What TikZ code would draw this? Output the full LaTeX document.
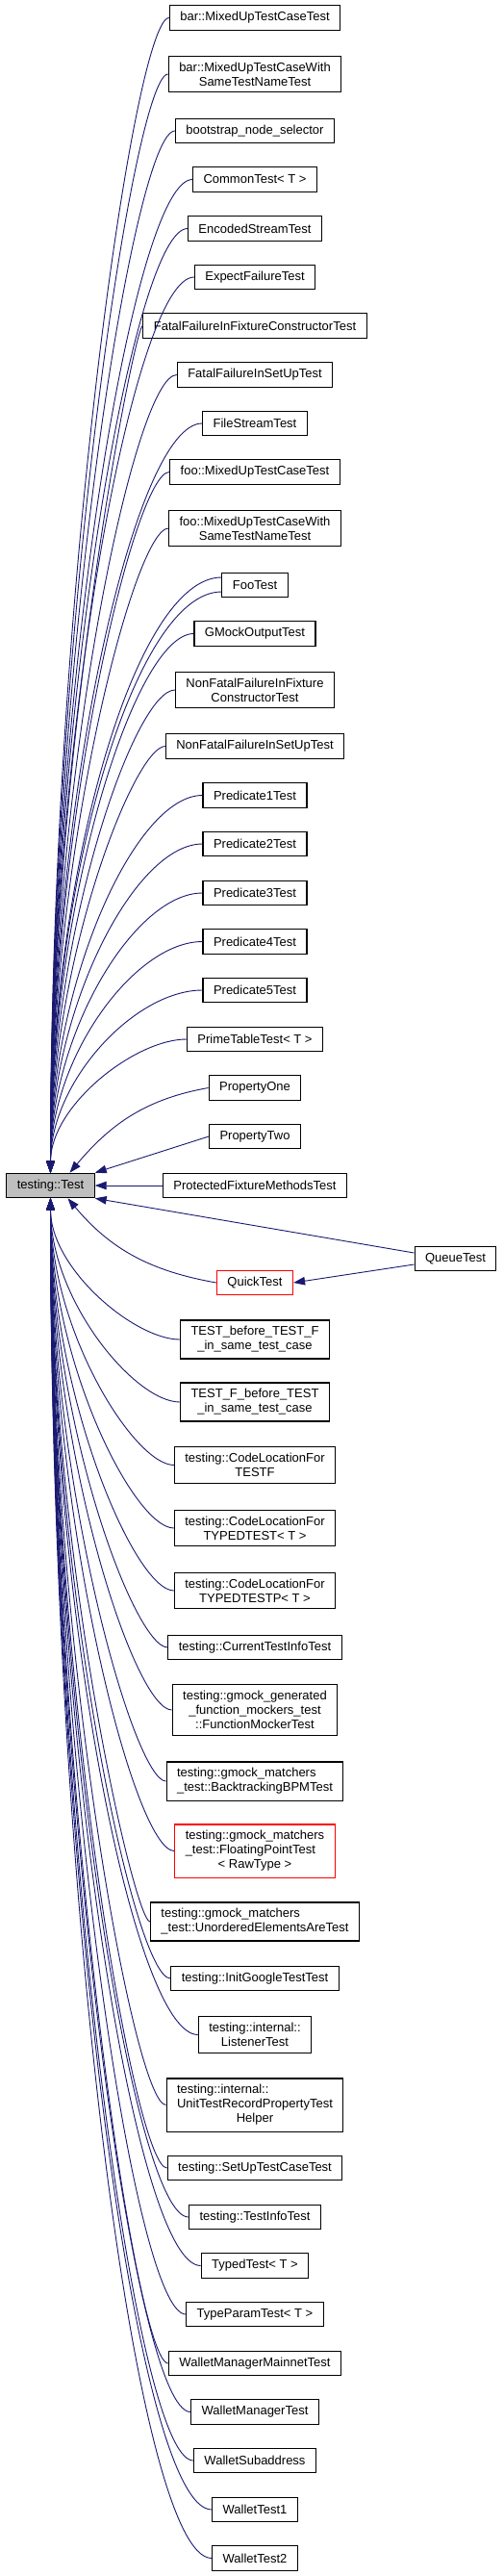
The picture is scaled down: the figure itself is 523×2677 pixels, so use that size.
\documentclass[tikz,border=0pt]{standalone}
\usepackage{fontspec}
\setmainfont{Liberation Sans}
\usetikzlibrary{arrows.meta,calc}
\definecolor{midnightblue}{RGB}{25,25,112}

\begin{document}
\begin{tikzpicture}[x=1pt,y=1pt,
  classbox/.style={draw=black, line width=1.1pt, rectangle, fill=white, minimum height=25.5pt, inner xsep=11pt, inner ysep=6.5pt, align=center, font=\fontsize{13}{15}\selectfont},
  leftbox/.style={classbox, align=left},
  redbox/.style={draw=red},
  inherit/.style={midnightblue, line width=0.9pt, arrows={Triangle[length=12pt,width=8.5pt]-}},
  curvy/.style={to path={.. controls ($(\tikztostart)!0.5!(\tikztostart |- \tikztotarget)$) and (bend |- \tikztotarget) .. (\tikztotarget)}}]
\useasboundingbox (0,0) rectangle (523,-2677);
\coordinate (bend) at (140,0);
\node[classbox, fill=black!25] (Test) at (52.5,-1232) {testing::Test};
\node[classbox] (barMixed) at (265,-18.5) {bar::MixedUpTestCaseTest};
\node[classbox] (barMixedSame) at (265,-77) {bar::MixedUpTestCaseWith\\SameTestNameTest};
\node[classbox] (bootstrap) at (265,-136) {bootstrap\_node\_selector};
\node[classbox] (commonTest) at (265,-186.5) {CommonTest< T >};
\node[classbox] (encoded) at (265,-237.5) {EncodedStreamTest};
\node[classbox] (expectFailure) at (265,-288) {ExpectFailureTest};
\node[classbox] (fatalCtor) at (265,-338.5) {FatalFailureInFixtureConstructorTest};
\node[classbox] (fatalSetUp) at (265,-389.5) {FatalFailureInSetUpTest};
\node[classbox] (fileStream) at (265,-440) {FileStreamTest};
\node[classbox] (fooMixed) at (265,-490.5) {foo::MixedUpTestCaseTest};
\node[classbox] (fooMixedSame) at (265,-549) {foo::MixedUpTestCaseWith\\SameTestNameTest};
\node[classbox] (fooTest) at (265,-608) {FooTest};
\node[classbox] (gmockOutput) at (265,-658.5) {GMockOutputTest};
\node[classbox] (nonFatalCtor) at (265,-717) {NonFatalFailureInFixture\\ConstructorTest};
\node[classbox] (nonFatalSetUp) at (265,-775.5) {NonFatalFailureInSetUpTest};
\node[classbox] (pred1) at (265,-826.5) {Predicate1Test};
\node[classbox] (pred2) at (265,-877) {Predicate2Test};
\node[classbox] (pred3) at (265,-928) {Predicate3Test};
\node[classbox] (pred4) at (265,-978.5) {Predicate4Test};
\node[classbox] (pred5) at (265,-1029) {Predicate5Test};
\node[classbox] (primeTable) at (265,-1080) {PrimeTableTest< T >};
\node[classbox] (propOne) at (265,-1130.5) {PropertyOne};
\node[classbox] (propTwo) at (265,-1181) {PropertyTwo};
\node[classbox] (protectedFixture) at (265,-1232) {ProtectedFixtureMethodsTest};
\node[classbox] (queueTest) at (473.5,-1308) {QueueTest};
\node[classbox, redbox] (quickTest) at (265,-1333) {QuickTest};
\node[classbox] (testBefore) at (265,-1392) {TEST\_before\_TEST\_F\\\_in\_same\_test\_case};
\node[classbox] (testFBefore) at (265,-1457) {TEST\_F\_before\_TEST\\\_in\_same\_test\_case};
\node[classbox] (codeLocF) at (265,-1522.5) {testing::CodeLocationFor\\TESTF};
\node[classbox] (codeLocTyped) at (265,-1588) {testing::CodeLocationFor\\TYPEDTEST< T >};
\node[classbox] (codeLocTypedP) at (265,-1653) {testing::CodeLocationFor\\TYPEDTESTP< T >};
\node[classbox] (currentInfo) at (265,-1712) {testing::CurrentTestInfoTest};
\node[classbox] (functionMocker) at (265,-1777) {testing::gmock\_generated\\\_function\_mockers\_test\\::FunctionMockerTest};
\node[leftbox] (backtracking) at (265,-1851) {testing::gmock\_matchers\\\_test::BacktrackingBPMTest};
\node[leftbox, redbox] (floatingPoint) at (265,-1923.5) {testing::gmock\_matchers\\\_test::FloatingPointTest\\\hfil< RawType >};
\node[leftbox] (unordered) at (265,-1997) {testing::gmock\_matchers\\\_test::UnorderedElementsAreTest};
\node[classbox] (initGoogle) at (265,-2056) {testing::InitGoogleTestTest};
\node[classbox] (listener) at (265,-2114.5) {testing::internal::\\ListenerTest};
\node[leftbox] (recordProperty) at (265,-2187.5) {testing::internal::\\UnitTestRecordPropertyTest\\\hfil Helper};
\node[classbox] (setUpCase) at (265,-2253) {testing::SetUpTestCaseTest};
\node[classbox] (testInfo) at (265,-2304) {testing::TestInfoTest};
\node[classbox] (typedTest) at (265,-2354.5) {TypedTest< T >};
\node[classbox] (typeParam) at (265,-2405) {TypeParamTest< T >};
\node[classbox] (walletMainnet) at (265,-2456) {WalletManagerMainnetTest};
\node[classbox] (walletManager) at (265,-2506.5) {WalletManagerTest};
\node[classbox] (walletSub) at (265,-2557) {WalletSubaddress};
\node[classbox] (wallet1) at (265,-2608) {WalletTest1};
\node[classbox] (wallet2) at (265,-2658.5) {WalletTest2};
\coordinate (fooUp) at ([yshift=8pt]fooTest.west);
\coordinate (fooDown) at ([yshift=-7pt]fooTest.west);
\draw[inherit] (Test.north) to[curvy] (barMixed.west);
\draw[inherit] (Test.north) to[curvy] (barMixedSame.west);
\draw[inherit] (Test.north) to[curvy] (bootstrap.west);
\draw[inherit] (Test.north) to[curvy] (commonTest.west);
\draw[inherit] (Test.north) to[curvy] (encoded.west);
\draw[inherit] (Test.north) to[curvy] (expectFailure.west);
\draw[inherit] (Test.north) to[curvy] (fatalCtor.west);
\draw[inherit] (Test.north) to[curvy] (fatalSetUp.west);
\draw[inherit] (Test.north) to[curvy] (fileStream.west);
\draw[inherit] (Test.north) to[curvy] (fooMixed.west);
\draw[inherit] (Test.north) to[curvy] (fooMixedSame.west);
\draw[inherit] (Test.north) to[curvy] (fooUp);
\draw[inherit] (Test.north) to[curvy] (fooDown);
\draw[inherit] (Test.north) to[curvy] (gmockOutput.west);
\draw[inherit] (Test.north) to[curvy] (nonFatalCtor.west);
\draw[inherit] (Test.north) to[curvy] (nonFatalSetUp.west);
\draw[inherit] (Test.north) to[curvy] (pred1.west);
\draw[inherit] (Test.north) to[curvy] (pred2.west);
\draw[inherit] (Test.north) to[curvy] (pred3.west);
\draw[inherit] (Test.north) to[curvy] (pred4.west);
\draw[inherit] (Test.north) to[curvy] (pred5.west);
\draw[inherit] (Test.north) to[curvy] (primeTable.west);
\draw[inherit] ([xshift=20pt]Test.north) to[out=50,in=190] (propOne.west);
\draw[inherit] (Test.north east) -- (propTwo.west);
\draw[inherit] (Test.east) -- (protectedFixture.west);
\draw[inherit] (Test.south east) -- ([yshift=6pt]queueTest.west);
\draw[inherit] ([xshift=18pt]Test.south) to[out=-50,in=170] (quickTest.west);
\draw[inherit] (quickTest.east) -- ([yshift=-6pt]queueTest.west);
\draw[inherit] (Test.south) to[curvy] (testBefore.west);
\draw[inherit] (Test.south) to[curvy] (testFBefore.west);
\draw[inherit] (Test.south) to[curvy] (codeLocF.west);
\draw[inherit] (Test.south) to[curvy] (codeLocTyped.west);
\draw[inherit] (Test.south) to[curvy] (codeLocTypedP.west);
\draw[inherit] (Test.south) to[curvy] (currentInfo.west);
\draw[inherit] (Test.south) to[curvy] (functionMocker.west);
\draw[inherit] (Test.south) to[curvy] (backtracking.west);
\draw[inherit] (Test.south) to[curvy] (floatingPoint.west);
\draw[inherit] (Test.south) to[curvy] (unordered.west);
\draw[inherit] (Test.south) to[curvy] (initGoogle.west);
\draw[inherit] (Test.south) to[curvy] (listener.west);
\draw[inherit] (Test.south) to[curvy] (recordProperty.west);
\draw[inherit] (Test.south) to[curvy] (setUpCase.west);
\draw[inherit] (Test.south) to[curvy] (testInfo.west);
\draw[inherit] (Test.south) to[curvy] (typedTest.west);
\draw[inherit] (Test.south) to[curvy] (typeParam.west);
\draw[inherit] (Test.south) to[curvy] (walletMainnet.west);
\draw[inherit] (Test.south) to[curvy] (walletManager.west);
\draw[inherit] (Test.south) to[curvy] (walletSub.west);
\draw[inherit] (Test.south) to[curvy] (wallet1.west);
\draw[inherit] (Test.south) to[curvy] (wallet2.west);
\end{tikzpicture}
\end{document}
